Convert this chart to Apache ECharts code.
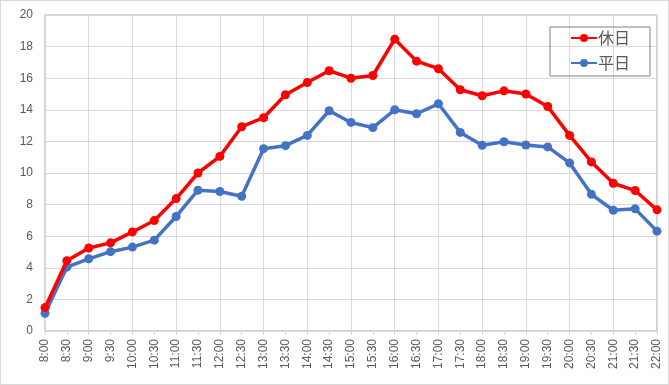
<!DOCTYPE html>
<html><head><meta charset="utf-8">
<script src="https://cdn.jsdelivr.net/npm/echarts@6/dist/echarts.min.js"></script>
<style>
html,body{margin:0;padding:0;background:#fff;}
#c{width:669px;height:385px;box-sizing:border-box;border:1px solid #d9d9d9;}
</style></head>
<body><div id="c"></div>
<script>
const categories = ['8:00','8:30','9:00','9:30','10:00','10:30','11:00','11:30','12:00','12:30','13:00','13:30','14:00','14:30','15:00','15:30','16:00','16:30','17:00','17:30','18:00','18:30','19:00','19:30','20:00','20:30','21:00','21:30','22:00'];
const holiday = [1.48,4.45,5.25,5.58,6.27,6.99,8.38,10.0,11.05,12.93,13.5,14.95,15.73,16.47,16.0,16.17,18.47,17.08,16.6,15.27,14.89,15.2,15.0,14.21,12.38,10.7,9.35,8.89,7.67];
const weekday = [1.12,4.04,4.57,5.02,5.31,5.75,7.25,8.91,8.83,8.53,11.54,11.73,12.38,13.94,13.2,12.87,14.0,13.75,14.38,12.57,11.75,11.98,11.77,11.65,10.64,8.65,7.64,7.73,6.32];
const seriesNames = ['休日','平日'];

const chart = echarts.init(document.getElementById('c'));
const txt = '#595959';
chart.setOption({
  animation:false,
  grid:{left:44,right:11,top:14,bottom:53,show:true,borderColor:'#a6a6a6',borderWidth:1},
  legend:{
    right:18,top:26,orient:'vertical',
    data:seriesNames,
    itemWidth:26,itemHeight:10,itemGap:5,
    padding:[1,20,3,20],
    borderColor:'#808080',borderWidth:1,
    textStyle:{color:txt,fontSize:16,lineHeight:20,fontFamily:'Noto Sans CJK JP',padding:[0,0,0,-4]}
  },
  xAxis:{
    type:'category',data:categories,boundaryGap:false,
    axisLine:{lineStyle:{color:'#d9d9d9'}},
    axisTick:{show:true,length:4,lineStyle:{color:'#d9d9d9'}},
    axisLabel:{rotate:90,color:txt,fontSize:12,fontFamily:'Liberation Sans',margin:8,interval:0},
    splitLine:{show:true,interval:1,lineStyle:{color:'#d9d9d9'}}
  },
  yAxis:{
    type:'value',min:0,max:20,interval:2,
    axisLine:{show:false},axisTick:{show:false},
    axisLabel:{color:txt,fontSize:12,fontFamily:'Liberation Sans',margin:12},
    splitLine:{lineStyle:{color:'#d9d9d9'}}
  },
  series:[
    {name:seriesNames[0],type:'line',data:holiday,symbol:'circle',symbolSize:9,
     lineStyle:{width:3.5,color:'#ff0000'},itemStyle:{color:'#ff0000'},z:3},
    {name:seriesNames[1],type:'line',data:weekday,symbol:'circle',symbolSize:9,
     lineStyle:{width:3.5,color:'#4472c4'},itemStyle:{color:'#4472c4'},z:2}
  ]
});
</script></body></html>
